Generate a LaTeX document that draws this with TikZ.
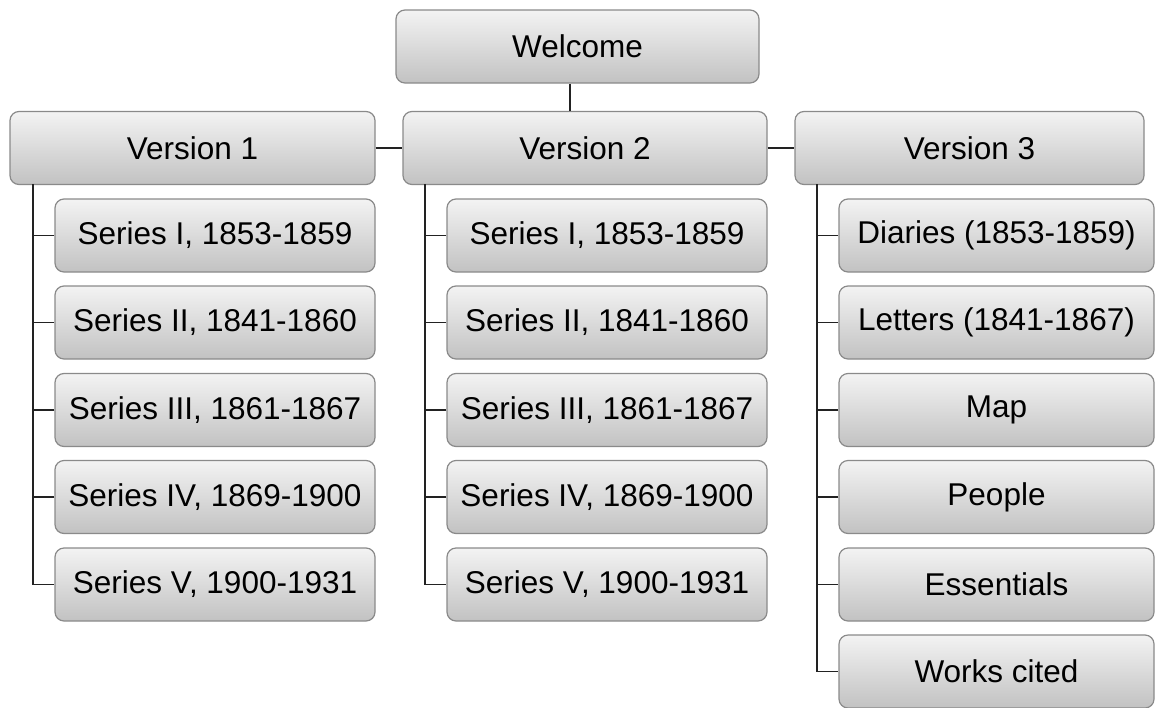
\documentclass[tikz,border=0pt]{standalone}
\usepackage{fontspec}
\setmainfont{Liberation Sans}
\definecolor{boxtop}{HTML}{F3F3F3}
\definecolor{boxbot}{HTML}{C2C2C2}
\definecolor{boxline}{HTML}{8A8A8A}
\definecolor{wirecol}{HTML}{222222}
\begin{document}
\begin{tikzpicture}[x=1pt,y=-1pt,
  box/.style={draw=boxline,line width=1.2pt,rounded corners=9pt,
    top color=boxtop,bottom color=boxbot,minimum height=73pt,inner sep=0pt,
    font=\fontsize{31.5}{36}\selectfont},
  wire/.style={draw=wirecol,line width=1.7pt}]
  \useasboundingbox (0,0) rectangle (1156,707);
  \node[box,minimum width=363pt] (welcome) at (577.5,46.5) {Welcome};
  \node[box,minimum width=365pt] (v1) at (192.5,148) {Version 1};
  \node[box,minimum width=364pt] (v2) at (585,148) {Version 2};
  \node[box,minimum width=349pt] (v3) at (969.5,148) {Version 3};
  % version 1
  \node[box,minimum width=320pt] (a1) at (215,235.5) {Series I, 1853-1859};
  \node[box,minimum width=320pt] (a2) at (215,322.5) {Series II, 1841-1860};
  \node[box,minimum width=320pt] (a3) at (215,410) {Series III, 1861-1867};
  \node[box,minimum width=320pt] (a4) at (215,497) {Series IV, 1869-1900};
  \node[box,minimum width=320pt] (a5) at (215,584.5) {Series V, 1900-1931};
  % version 2
  \node[box,minimum width=320pt] (b1) at (607,235.5) {Series I, 1853-1859};
  \node[box,minimum width=320pt] (b2) at (607,322.5) {Series II, 1841-1860};
  \node[box,minimum width=320pt] (b3) at (607,410) {Series III, 1861-1867};
  \node[box,minimum width=320pt] (b4) at (607,497) {Series IV, 1869-1900};
  \node[box,minimum width=320pt] (b5) at (607,584.5) {Series V, 1900-1931};
  % version 3
  \node[box,minimum width=315pt] (c1) at (996.5,235.5) {Diaries (1853-1859)};
  \node[box,minimum width=315pt] (c2) at (996.5,322.5) {Letters (1841-1867)};
  \node[box,minimum width=315pt] (c3) at (996.5,410) {Map};
  \node[box,minimum width=315pt] (c4) at (996.5,497) {People};
  \node[box,minimum width=315pt] (c5) at (996.5,584.5) {Essentials};
  \node[box,minimum width=315pt] (c6) at (996.5,671.5) {Works cited};
  % links
  \draw[wire] ([xshift=-7.5pt]welcome.south) -- ([xshift=-15pt]v2.north);
  \draw[wire] (v1) -- (v2);
  \draw[wire] (v2) -- (v3);
  \coordinate (t1) at (33,184);
  \coordinate (t2) at (425,184);
  \coordinate (t3) at (817,184);
  \draw[wire] (t1) |- (a5.west);
  \draw[wire] (t2) |- (b5.west);
  \draw[wire] (t3) |- (c6.west);
  \foreach \n in {1,...,4} {
    \draw[wire] (a\n.west) -- (a\n.west -| t1);
    \draw[wire] (b\n.west) -- (b\n.west -| t2);
  }
  \foreach \n in {1,...,5}
    \draw[wire] (c\n.west) -- (c\n.west -| t3);
\end{tikzpicture}
\end{document}
